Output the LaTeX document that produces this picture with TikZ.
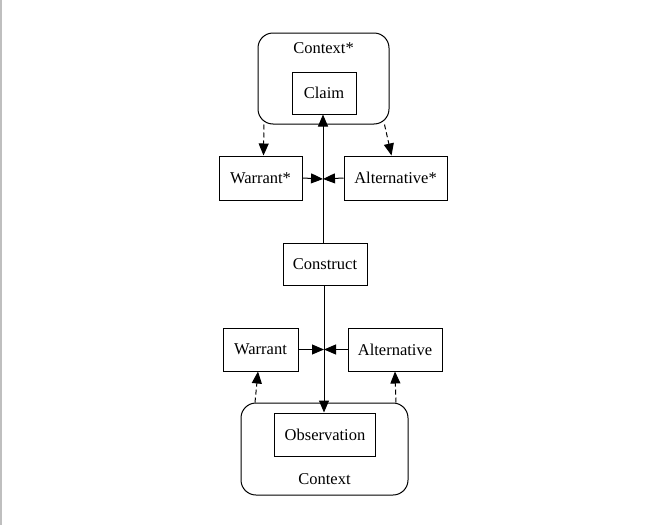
\documentclass[tikz,border=0pt]{standalone}
\usepackage{fontspec}
\setmainfont{Liberation Serif}
\usetikzlibrary{arrows.meta}

\begin{document}
\begin{tikzpicture}
          [x = 1pt, y = -1pt, >= {Triangle[length=12pt, width=10pt]},
           every node/.style = {font = \fontsize{16.5}{18}\selectfont, inner sep = 0pt},
           box/.style = {draw, line width = 1pt},
           frame/.style = {draw, line width = 1pt, rounded corners = 15pt},
           link/.style = {line width = 1pt, ->},
           dlink/.style = {line width = 1pt, ->, dash pattern = on 5pt off 3pt}]
          \useasboundingbox (0,0) rectangle (662,525);
          \draw[gray!50, line width = 1.5pt] (0.75,0) -- (0.75,525);
          % upper context
          \node[frame, minimum width = 131pt, minimum height = 91pt] (ctxs) at (323.5,78.5) {};
          \node (ctxslabel) at (323.5,48) {Context*};
          \node[box, minimum width = 64pt, minimum height = 42pt] (claim) at (324,93) {Claim};
          \node[box, minimum width = 83pt, minimum height = 44pt] (wars) at (260.5,178) {Warrant*};
          \node[box, minimum width = 103pt, minimum height = 44pt] (alts) at (395.5,178) {Alternative*};
          \node[box, minimum width = 84pt, minimum height = 42pt] (cons) at (325,264) {Construct};
          % lower context
          \node[box, minimum width = 75pt, minimum height = 43pt] (war) at (260.5,349.5) {Warrant};
          \node[box, minimum width = 94pt, minimum height = 43pt] (alt) at (395,349.5) {Alternative};
          \node[frame, minimum width = 167pt, minimum height = 92pt] (ctx) at (324.5,449) {};
          \node[box, minimum width = 101pt, minimum height = 43pt] (obs) at (325,434.5) {Observation};
          \node (ctxlabel) at (324.5,479) {Context};
          \coordinate (ups) at (323,179);
          \coordinate (downs) at (324,349.5);
          \draw[link] (cons.north -| ups) -- (ups |- claim.south);
          \draw[link] (wars.east) -- (ups);
          \draw[link] (alts.west) -- (ups);
          \draw[link] (cons.south -| downs) -- (downs |- obs.north);
          \draw[link] (war.east) -- (downs);
          \draw[link] (alt.west) -- (downs);
          \draw[dlink] ([xshift = 3.5pt]wars.north |- ctxs.south) -- ([xshift = 3pt]wars.north);
          \draw[dlink] ([xshift = -5pt]ctxs.south east) -- ([xshift = -4pt]alts.north);
          \draw[dlink] ([xshift = -5.5pt]war.south |- ctx.north) -- ([xshift = -2.5pt]war.south);
          \draw[dlink] ([xshift = 1pt]alt.south |- ctx.north) -- (alt.south);
        \end{tikzpicture}
\end{document}
